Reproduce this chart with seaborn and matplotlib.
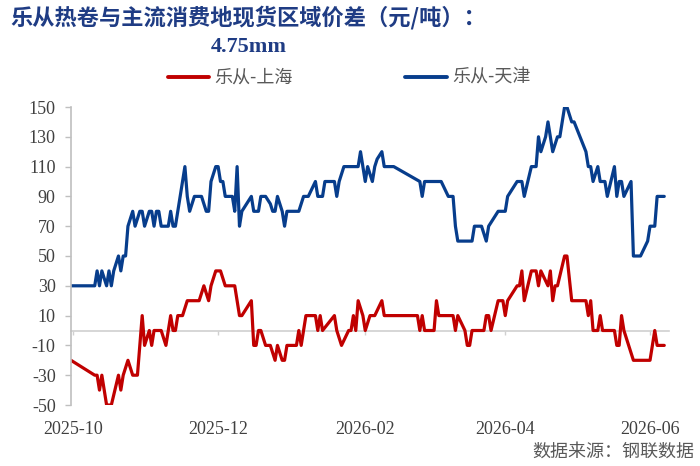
import matplotlib
matplotlib.use("Agg")
import matplotlib.pyplot as plt
import matplotlib.dates as mdates
import seaborn as sns
import pandas as pd
from matplotlib.lines import Line2D

title_line1 = "乐从热卷与主流消费地现货区域价差（元/吨）："
title_line2 = "4.75mm"
source_text = "数据来源：钢联数据"
series_names = ["乐从-上海", "乐从-天津"]

blue_dates = ["2025-09-30","2025-10-10","2025-10-11","2025-10-12","2025-10-13","2025-10-15","2025-10-16","2025-10-17","2025-10-18","2025-10-20",
              "2025-10-21","2025-10-22","2025-10-23","2025-10-24","2025-10-25","2025-10-26","2025-10-27","2025-10-29","2025-10-30","2025-10-31",
              "2025-11-01","2025-11-02","2025-11-03","2025-11-04","2025-11-05","2025-11-06","2025-11-07","2025-11-10","2025-11-11","2025-11-12",
              "2025-11-13","2025-11-15","2025-11-17","2025-11-18","2025-11-19","2025-11-21","2025-11-24","2025-11-26","2025-11-27","2025-11-28",
              "2025-11-29","2025-11-30","2025-12-01","2025-12-02","2025-12-03","2025-12-04","2025-12-07","2025-12-08","2025-12-09","2025-12-10",
              "2025-12-11","2025-12-15","2025-12-16","2025-12-18","2025-12-19","2025-12-21","2025-12-23","2025-12-24","2025-12-25","2025-12-26",
              "2025-12-28","2025-12-29","2025-12-30","2026-01-04","2026-01-06","2026-01-08","2026-01-11","2026-01-12","2026-01-14","2026-01-15",
              "2026-01-19","2026-01-20","2026-01-21","2026-01-23","2026-01-29","2026-01-30","2026-01-31","2026-02-01","2026-02-02","2026-02-04",
              "2026-02-05","2026-02-06","2026-02-08","2026-02-09","2026-02-13","2026-02-24","2026-02-25","2026-02-26","2026-03-05","2026-03-08",
              "2026-03-10","2026-03-11","2026-03-12","2026-03-18","2026-03-19","2026-03-22","2026-03-24","2026-03-25","2026-03-27","2026-03-29",
              "2026-04-01","2026-04-02","2026-04-04","2026-04-06","2026-04-08","2026-04-09","2026-04-12","2026-04-14","2026-04-15","2026-04-16",
              "2026-04-18","2026-04-19","2026-04-21","2026-04-23","2026-04-24","2026-04-26","2026-04-27","2026-04-29","2026-04-30","2026-05-05",
              "2026-05-06","2026-05-07","2026-05-08","2026-05-10","2026-05-11","2026-05-13","2026-05-14","2026-05-17","2026-05-18","2026-05-19",
              "2026-05-20","2026-05-21","2026-05-24","2026-05-25","2026-05-28","2026-05-31","2026-06-01","2026-06-03","2026-06-04","2026-06-07"]
blue_vals = [30,30,40,30,40,30,40,30,40,50,
             40,50,50,70,75,80,70,80,80,70,
             75,80,80,70,80,80,70,70,80,70,
             70,90,110,90,80,90,90,80,80,100,
             105,110,110,100,100,90,90,80,110,70,
             80,90,80,80,90,90,85,80,80,90,
             80,70,80,80,90,90,100,90,90,100,
             100,90,100,110,110,120,110,100,110,100,
             110,115,120,110,110,100,90,100,100,90,
             90,70,60,60,70,70,60,70,75,80,
             80,90,95,100,100,90,110,110,130,120,
             130,140,120,130,130,150,150,140,140,120,
             110,110,100,110,100,100,90,110,90,100,
             100,90,100,50,50,60,70,70,90,90]

red_dates = ["2025-09-30","2025-10-10","2025-10-11","2025-10-12","2025-10-13","2025-10-15","2025-10-17","2025-10-20","2025-10-21","2025-10-22",
             "2025-10-24","2025-10-26","2025-10-28","2025-10-30","2025-10-31","2025-11-02","2025-11-03","2025-11-04","2025-11-07","2025-11-09",
             "2025-11-11","2025-11-12","2025-11-13","2025-11-14","2025-11-16","2025-11-18","2025-11-23","2025-11-25","2025-11-27","2025-11-28",
             "2025-11-30","2025-12-02","2025-12-04","2025-12-08","2025-12-09","2025-12-10","2025-12-11","2025-12-15","2025-12-16","2025-12-17",
             "2025-12-18","2025-12-19","2025-12-21","2025-12-23","2025-12-25","2025-12-26","2025-12-28","2025-12-29","2025-12-30","2026-01-03",
             "2026-01-04","2026-01-05","2026-01-07","2026-01-11","2026-01-12","2026-01-13","2026-01-14","2026-01-19","2026-01-20","2026-01-22",
             "2026-01-25","2026-01-26","2026-01-27","2026-01-28","2026-01-29","2026-01-31","2026-02-01","2026-02-03","2026-02-05","2026-02-08",
             "2026-02-09","2026-02-23","2026-02-24","2026-02-25","2026-02-26","2026-03-02","2026-03-03","2026-03-04","2026-03-10","2026-03-11",
             "2026-03-12","2026-03-15","2026-03-16","2026-03-17","2026-03-18","2026-03-23","2026-03-24","2026-03-25","2026-03-26","2026-03-29",
             "2026-03-31","2026-04-01","2026-04-02","2026-04-04","2026-04-06","2026-04-07","2026-04-08","2026-04-09","2026-04-12","2026-04-14",
             "2026-04-15","2026-04-16","2026-04-19","2026-04-20","2026-04-21","2026-04-22","2026-04-23","2026-04-26","2026-04-27","2026-04-29",
             "2026-05-05","2026-05-06","2026-05-07","2026-05-08","2026-05-10","2026-05-11","2026-05-12","2026-05-17","2026-05-18","2026-05-19",
             "2026-05-20","2026-05-21","2026-05-23","2026-05-25","2026-06-01","2026-06-03","2026-06-04","2026-06-07"]
red_vals = [-20,-30,-30,-40,-30,-50,-50,-30,-40,-30,
            -20,-30,-30,10,-10,0,-10,0,0,-10,
            10,0,0,10,10,20,20,30,20,30,
            40,40,30,30,20,10,10,20,-10,-10,
            0,0,-10,-10,-20,-10,-20,-20,-10,-10,
            0,-10,10,10,0,10,0,10,0,-10,
            0,0,10,0,20,10,0,10,10,20,
            10,10,0,10,0,0,20,10,10,0,
            10,0,-10,-10,0,0,10,10,0,20,
            20,10,20,25,30,30,40,20,40,40,
            30,40,30,40,20,30,30,50,50,20,
            20,10,20,0,0,10,0,0,-10,-10,
            10,0,-10,-20,-20,0,-10,-10]

x_ticks = ["2025-10-01", "2025-12-01", "2026-02-01", "2026-04-01", "2026-06-01"]
y_ticks = [-50, -30, -10, 10, 30, 50, 70, 90, 110, 130, 150]

RED = "#C00000"
BLUE = "#073D8C"
NAVY = "#1F3C84"
GRAY_TXT = "#404040"
AXIS_GRAY = "#BFBFBF"

sns.set_theme(style="white")
plt.rcParams["font.family"] = ["Liberation Serif", "Noto Sans CJK SC", "DejaVu Sans"]
plt.rcParams["axes.unicode_minus"] = False

fig = plt.figure(figsize=(7.0, 4.66), dpi=100)
ax = fig.add_axes([71/700, 1-405/466, (669-71)/700, (405-107)/466])

red_df = pd.DataFrame({"date": pd.to_datetime(red_dates), "value": red_vals})
blue_df = pd.DataFrame({"date": pd.to_datetime(blue_dates), "value": blue_vals})

sns.lineplot(data=red_df, x="date", y="value", ax=ax, color=RED, linewidth=2.3, label=series_names[0])
sns.lineplot(data=blue_df, x="date", y="value", ax=ax, color=BLUE, linewidth=2.3, label=series_names[1])
for ln in ax.get_lines():
    ln.set_solid_joinstyle("round")
    ln.set_solid_capstyle("round")

ax.set_xlim(pd.Timestamp("2025-09-30"), pd.Timestamp("2026-06-09"))
ax.set_ylim(-50, 150)
ax.set_yticks(y_ticks)
ax.set_xticks(pd.to_datetime(x_ticks))
ax.xaxis.set_major_formatter(mdates.DateFormatter("%Y-%m"))
ax.set_xlabel("")
ax.set_ylabel("")

for s in ["top", "right"]:
    ax.spines[s].set_visible(False)
ax.spines["left"].set_color(AXIS_GRAY)
ax.spines["left"].set_linewidth(1.2)
ax.spines["bottom"].set_position(("data", 0))
ax.spines["bottom"].set_color("#D0D0D0")
ax.spines["bottom"].set_linewidth(1.2)
ax.spines["bottom"].set_zorder(0.5)

ax.tick_params(axis="y", direction="out", length=4, width=1, color=AXIS_GRAY,
               labelsize=13, labelcolor=GRAY_TXT, pad=7, left=True)
ax.tick_params(axis="x", direction="out", length=3, width=1, color="#D0D0D0",
               labelsize=13, labelcolor=GRAY_TXT, pad=62, bottom=True)
for lab in ax.get_xticklabels() + ax.get_yticklabels():
    lab.set_fontfamily(["Liberation Serif"])

ax.get_legend().remove()
handles = [Line2D([0], [0], color=RED, lw=2.8), Line2D([0], [0], color=BLUE, lw=2.8)]
leg = fig.legend(handles, series_names, loc="center", bbox_to_anchor=(349/700, 1-78/466),
                 ncol=2, frameon=False, handlelength=2.3, handletextpad=0.3, columnspacing=6.2,
                 prop={"family": ["Noto Sans CJK SC"], "size": 13})
for t in leg.get_texts():
    t.set_color("#595959")

fig.text(10/700, 1-18/466, title_line1, fontsize=16, fontweight="bold", color=NAVY,
         ha="left", va="center", family=["Noto Sans CJK SC"])
fig.text(249/700, 1-47/466, title_line2, fontsize=16, fontweight="bold", color=NAVY,
         ha="center", va="center", family=["Liberation Serif"])
fig.text(694/700, 1-452/466, source_text, fontsize=13, color="#595959",
         ha="right", va="center", family=["Noto Sans CJK SC"])

fig.savefig("out.png", dpi=100, facecolor="white")
